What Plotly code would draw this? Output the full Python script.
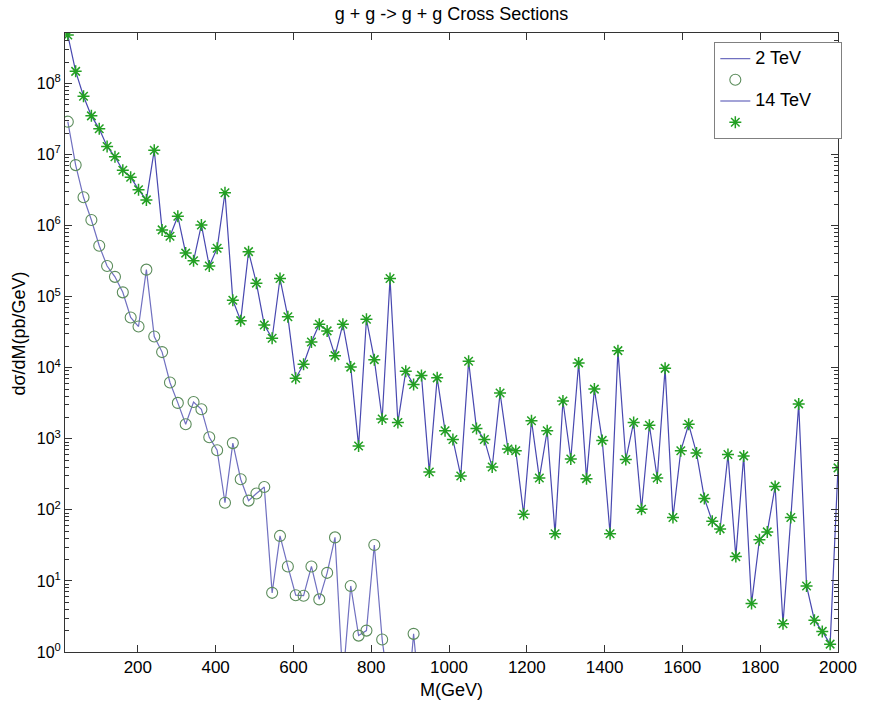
import numpy as np
import plotly.graph_objects as go

# Mass grid (GeV): 99 samples from 20 to 2000
mass = np.linspace(20, 2000, 99)

# 2 TeV cross sections (pb/GeV); values beyond the visible range omitted
xs_2tev = [2.9e7, 7.1e6, 2.5e6, 1.2e6, 5.2e5, 2.7e5, 1.9e5, 1.15e5, 5.1e4, 3.8e4,
           2.4e5, 2.75e4, 1.66e4, 6.2e3, 3.2e3, 1.6e3, 3.3e3, 2.6e3, 1.05e3, 690,
           126, 870, 270, 135, 170, 210, 6.8, 43, 16, 6.3,
           6.2, 16, 5.5, 13, 41, 0.4, 8.5, 1.7, 2.0, 32,
           1.5, 0.2, 0.03, 0.1, 1.8, 0.12]

# 14 TeV cross sections (pb/GeV)
xs_14tev = [4.8e8, 1.48e8, 6.6e7, 3.5e7, 2.3e7, 1.3e7, 9.3e6, 6.0e6, 4.8e6, 3.2e6,
            2.3e6, 1.15e7, 8.7e5, 7.1e5, 1.35e6, 4.1e5, 3.2e5, 1.02e6, 2.7e5, 4.8e5,
            2.9e6, 8.9e4, 4.6e4, 4.3e5, 1.55e5, 4.0e4, 2.6e4, 1.8e5, 5.2e4, 7.1e3,
            1.12e4, 2.3e4, 4.1e4, 3.3e4, 1.48e4, 4.1e4, 1.02e4, 790, 4.8e4, 1.3e4,
            1.9e3, 1.8e5, 1.7e3, 8.9e3, 5.8e3, 7.8e3, 340, 7.2e3, 1.3e3, 980,
            300, 1.23e4, 1.4e3, 980, 400, 4.4e3, 720, 680, 87, 1.8e3,
            280, 1.3e3, 46, 3.4e3, 520, 1.17e4, 275, 5.0e3, 950, 46,
            1.74e4, 510, 1.7e3, 102, 1.55e3, 280, 9.8e3, 78, 680, 1.6e3,
            630, 145, 69, 54, 600, 22, 575, 4.8, 38, 49,
            214, 2.5, 78, 3.1e3, 8.5, 2.8, 1.95, 1.29, 390]

x_ticks = [200, 400, 600, 800, 1000, 1200, 1400, 1600, 1800, 2000]
y_ticks = [1, 1e1, 1e2, 1e3, 1e4, 1e5, 1e6, 1e7, 1e8]
y_ticklabels = ["10<sup>%d</sup>" % i for i in range(9)]
y_minor = [k * 10 ** e for e in range(9) for k in range(2, 10)]

legend_names = ["2 TeV", "", "14 TeV", ""]

FONT = "Liberation Sans, Arial, Helvetica, sans-serif"
LINE2 = "#7070c0"
LINE14 = "#4848b0"


def leg(name):
    return '<span style="font-size:18px">%s\u00a0\u00a0\u00a0\u00a0\u00a0</span>' % (name if name else "\u00a0")


x2 = mass[:len(xs_2tev)]

fig = go.Figure()
fig.add_trace(go.Scatter(x=x2, y=xs_2tev, mode="lines", name=leg(legend_names[0]),
                         line=dict(color=LINE2, width=1.2)))
fig.add_trace(go.Scatter(x=x2, y=xs_2tev, mode="markers", name=leg(legend_names[1]),
                         marker=dict(symbol="circle-open", size=11,
                                     color="#5b8c5b", line=dict(width=1.1))))
fig.add_trace(go.Scatter(x=mass, y=xs_14tev, mode="lines", name=leg(legend_names[2]),
                         line=dict(color=LINE14, width=1.2)))
fig.add_trace(go.Scatter(x=mass, y=xs_14tev, mode="markers", name=leg(legend_names[3]),
                         marker=dict(symbol="asterisk-open", size=10,
                                     color="#23a023", line=dict(width=1.5, color="#23a023"))))

fig.update_layout(
    width=869, height=704,
    margin=dict(l=65, r=22, t=33, b=52),
    paper_bgcolor="white", plot_bgcolor="white",
    font=dict(family=FONT, color="black", size=17),
    title=dict(text="g + g -> g + g Cross Sections", x=0.5, xref="paper",
               y=1 - 14 / 704, yref="container", yanchor="middle", xanchor="center",
               font=dict(size=18, family=FONT, color="black")),
    showlegend=True,
    legend=dict(x=0.84, y=0.9855, xanchor="left", yanchor="top",
                bgcolor="white", bordercolor="#808080", borderwidth=1,
                font=dict(size=14, family=FONT), tracegroupgap=0),
    xaxis=dict(range=[12.8, 2000], tickvals=x_ticks, ticks="inside", ticklen=7,
               showline=True, linecolor="#333333", linewidth=1, mirror="ticks",
               showgrid=False, zeroline=False, tickfont=dict(size=17),
               tickcolor="#333333"),
    yaxis=dict(type="log", range=[0, 8.71], tickmode="array", tickvals=y_ticks,
               ticktext=y_ticklabels, ticks="inside", ticklen=7,
               showline=True, linecolor="#333333", linewidth=1, mirror="ticks",
               showgrid=False, zeroline=False, tickfont=dict(size=16),
               tickcolor="#333333",
               minor=dict(tickmode="array", tickvals=y_minor, ticks="inside",
                          ticklen=4, tickcolor="#333333", showgrid=False)),
)

fig.add_annotation(text="M(GeV)", xref="paper", yref="paper", x=0.5,
                   y=-(690 - 652) / 619, xanchor="center", yanchor="middle",
                   showarrow=False, font=dict(size=18, family=FONT))
fig.add_annotation(text="dσ/dM(pb/GeV)", xref="paper", yref="paper",
                   x=(18 - 65) / 782, y=0.5 + (342.5 - 334) / 619,
                   xanchor="center", yanchor="middle", textangle=-90,
                   showarrow=False, font=dict(size=18, family=FONT))

fig.write_html("out.html")
